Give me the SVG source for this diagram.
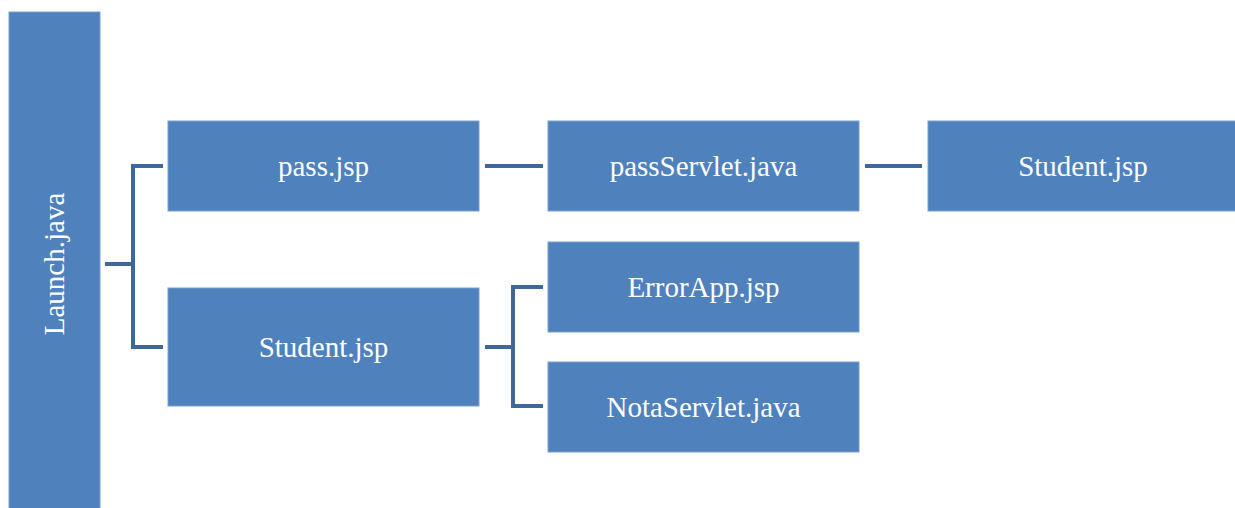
<svg xmlns="http://www.w3.org/2000/svg" width="1235" height="508" viewBox="0 0 1235 508">
  <style>
    .box { fill: #4F81BD; stroke: #7A9FCC; stroke-width: 1; }
    .lbl { fill: #FFFFFF; font-family: "Liberation Serif", "Times New Roman", serif; font-size: 29px; text-anchor: middle; }
    .conn { fill: none; stroke: #3F6797; stroke-width: 4; stroke-linejoin: miter; }
  </style>
  <rect width="1235" height="508" fill="#FFFFFF"/>

  <g id="connectors">
    <!-- Launch.java to its two children -->
    <path class="conn" d="M105,264 H133 M163,166 H133 V347 H163"/>
    <!-- pass.jsp chain -->
    <path class="conn" d="M485,166 H543"/>
    <path class="conn" d="M865,166 H922"/>
    <!-- Student.jsp to its two children -->
    <path class="conn" d="M485,347 H513 M543,287 H513 V406 H543"/>
  </g>

  <g id="launch">
    <rect class="box" x="9" y="12" width="91" height="500"/>
    <text class="lbl" transform="translate(64,264) rotate(-90)">Launch.java</text>
  </g>
  <g id="pass-jsp">
    <rect class="box" x="168" y="121" width="311" height="90"/>
    <text class="lbl" x="323.5" y="176">pass.jsp</text>
  </g>
  <g id="pass-servlet">
    <rect class="box" x="548" y="121" width="311" height="90"/>
    <text class="lbl" x="703.5" y="176">passServlet.java</text>
  </g>
  <g id="student-jsp-result">
    <rect class="box" x="928" y="121" width="312" height="90"/>
    <text class="lbl" x="1083" y="176">Student.jsp</text>
  </g>
  <g id="student-jsp">
    <rect class="box" x="168" y="288" width="311" height="118"/>
    <text class="lbl" x="323.5" y="357">Student.jsp</text>
  </g>
  <g id="error-app">
    <rect class="box" x="548" y="242" width="311" height="90"/>
    <text class="lbl" x="703.5" y="297">ErrorApp.jsp</text>
  </g>
  <g id="nota-servlet">
    <rect class="box" x="548" y="362" width="311" height="90"/>
    <text class="lbl" x="703.5" y="417">NotaServlet.java</text>
  </g>
</svg>
